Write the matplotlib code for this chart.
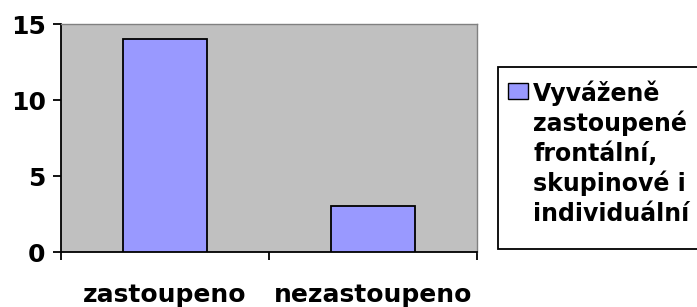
import matplotlib.pyplot as plt
from matplotlib.patches import Rectangle

categories = ['zastoupeno', 'nezastoupeno']
values = [14, 3]
series_label = ['Vyváženě', 'zastoupené', 'frontální,', 'skupinové i', 'individuální']
yticks = [0, 5, 10, 15]

plt.rcParams['font.family'] = ['DejaVu Sans']
plt.rcParams['font.weight'] = 'bold'
W, H = 697, 307

fig = plt.figure(figsize=(W / 100, H / 100), dpi=100)
ax = fig.add_axes([61 / W, 1 - 252 / H, 416 / W, 228 / H])
ax.set_facecolor('#C0C0C0')

x = list(range(len(categories)))
ax.bar(x, values, width=0.4, color='#9999FF', edgecolor='black', linewidth=1.3, zorder=3)

ax.set_xlim(-0.5, 1.5)
ax.set_ylim(0, 15)
ax.set_yticks(yticks)
ax.set_yticklabels([str(t) for t in yticks], fontsize=18, fontweight='bold')
ax.set_xticks([-0.5, 0.5, 1.5])
ax.set_xticklabels([])
ax.set_xticks(x, minor=True)
ax.set_xticklabels(categories, minor=True, fontsize=18, fontweight='bold')
ax.tick_params(axis='x', which='minor', length=0, pad=22)
ax.tick_params(axis='x', which='major', length=6, width=1.3, direction='out')
ax.tick_params(axis='y', length=6, width=1.3, direction='out', pad=5)

for s in ['left', 'bottom']:
    ax.spines[s].set_color('black')
    ax.spines[s].set_linewidth(1.3)
for s in ['top', 'right']:
    ax.spines[s].set_color('#808080')
    ax.spines[s].set_linewidth(1)

# legend drawn by hand so the swatch sits beside the first line
tf = fig.transFigure
fig.patches.append(Rectangle((498 / W, 1 - 249 / H), 260 / W, 182 / H, transform=tf,
                             facecolor='white', edgecolor='black', linewidth=1.3))
fig.patches.append(Rectangle((508 / W, 1 - 99 / H), 20 / W, 16 / H, transform=tf,
                             facecolor='#9999FF', edgecolor='black', linewidth=1))
for i, line in enumerate(series_label):
    fig.text(533 / W, 1 - (101 + 30 * i) / H, line, fontsize=17, fontweight='bold',
             va='baseline', ha='left')

fig.savefig('out.png', dpi=100)
